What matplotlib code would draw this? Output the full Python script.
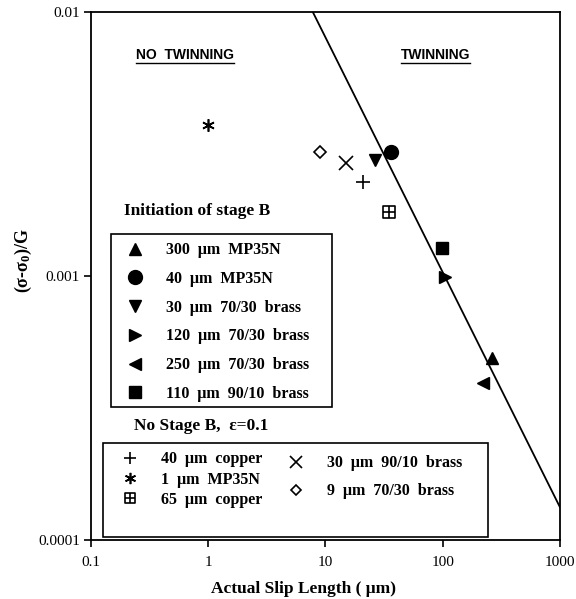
import numpy as np
import matplotlib
matplotlib.use("Agg")
import matplotlib.pyplot as plt
from matplotlib.path import Path
from matplotlib.lines import Line2D
from matplotlib.patches import Rectangle

plt.rcParams['font.family'] = ['Liberation Serif', 'DejaVu Serif']
plt.rcParams['mathtext.fontset'] = 'custom'
plt.rcParams['mathtext.rm'] = 'Liberation Serif:bold'
plt.rcParams['mathtext.it'] = 'Liberation Serif:bold'

# stage B initiation data (slip length in um, normalised stress)
stage_labels = ["300  μm  MP35N", "40  μm  MP35N", "30  μm  70/30  brass",
                "120  μm  70/30  brass", "250  μm  70/30  brass", "110  μm  90/10  brass"]
stage_x = [262, 36, 26.4, 104, 220, 98]
stage_y = [0.000488, 0.00294, 0.00276, 0.00099, 0.000392, 0.00128]

# no stage B, strain 0.1
nob_labels = ["40  μm  copper", "1  μm  MP35N", "65  μm  copper",
              "30  μm  90/10  brass", "9  μm  70/30  brass"]
nob_x = [20.8, 1.0, 34.7, 14.9, 9.0]
nob_y = [0.00226, 0.00372, 0.00175, 0.00267, 0.00294]

# twinning boundary
line_x = [7.8, 1000]
line_y = [0.01, 0.000133]

# boxed plus marker
verts = [(-1, -1), (1, -1), (1, 1), (-1, 1), (-1, -1),
         (0, -1), (0, 1), (-1, 0), (1, 0)]
codes = [Path.MOVETO, Path.LINETO, Path.LINETO, Path.LINETO, Path.CLOSEPOLY,
         Path.MOVETO, Path.LINETO, Path.MOVETO, Path.LINETO]
boxplus = Path(verts, codes)

stage_markers = ['^', 'o', 'v', '>', '<', 's']
stage_sizes = [9, 10, 9, 9, 9, 8.5]
nob_markers = ['+', (6, 2, 0), boxplus, 'x', 'D']
nob_sizes = [10, 9, 8, 10, 6]
nob_open = [False, False, True, False, True]

fig = plt.figure(figsize=(5.76, 5.99), dpi=100)
ax = fig.add_axes([0.158, 0.099, 0.814, 0.881])

ax.plot(line_x, line_y, color='black', lw=1.3)

for x, y, m, s in zip(stage_x, stage_y, stage_markers, stage_sizes):
    ax.plot(x, y, marker=m, color='black', ms=s, ls='none')
for x, y, m, s, op in zip(nob_x, nob_y, nob_markers, nob_sizes, nob_open):
    ax.plot(x, y, marker=m, color='black', mfc='none' if op else 'black',
            ms=s, mew=1.2, ls='none')

ax.set_xscale('log')
ax.set_yscale('log')
ax.set_xlim(0.1, 1000)
ax.set_ylim(0.0001, 0.01)
ax.set_xticks([0.1, 1, 10, 100, 1000])
ax.set_xticklabels(['0.1', '1', '10', '100', '1000'])
ax.set_yticks([0.0001, 0.001, 0.01])
ax.set_yticklabels(['0.0001', '0.001', '0.01'])
ax.minorticks_off()
ax.tick_params(direction='out', length=5, width=1.2, labelsize=11, pad=3)
ax.tick_params(axis='x', pad=7)
for sp in ax.spines.values():
    sp.set_linewidth(1.3)

ax.set_xlabel('Actual Slip Length ( μm)', fontsize=12.5, fontweight='bold')
ax.xaxis.set_label_coords(0.454, -0.078)
ax.set_ylabel('(σ-σ$_0$)/G', fontsize=13, fontweight='bold')
ax.yaxis.set_label_coords(-0.122, 0.53)

# region labels
for tx, label in [(0.200, 'NO  TWINNING'), (0.735, 'TWINNING')]:
    ax.text(tx, 0.911, label, transform=ax.transAxes, ha='center', va='baseline',
            family='Liberation Sans', fontweight='bold', fontsize=10)
fig.canvas.draw()
for t in list(ax.texts):
    bb = t.get_window_extent().transformed(ax.transAxes.inverted())
    ax.plot([bb.x0, bb.x1], [0.904, 0.904], transform=ax.transAxes, color='black', lw=1)

leg_font = {'weight': 'bold', 'size': 11.5}

# legend 1
ax.text(0.070, 0.622, 'Initiation of stage B', transform=ax.transAxes,
        fontsize=12.5, fontweight='bold', va='center')
ax.add_patch(Rectangle((0.043, 0.251), 0.471, 0.329, transform=ax.transAxes,
                       fill=False, lw=1.2, ec='black'))
h1 = [Line2D([], [], marker=m, color='black', ms=s, ls='none')
      for m, s in zip(stage_markers, stage_sizes)]
leg1 = ax.legend(h1, stage_labels, loc='upper left', bbox_to_anchor=(0.055, 0.576),
                 frameon=False, prop=leg_font,
                 labelspacing=0.80, handletextpad=1.2, borderaxespad=0, handlelength=1.5)
ax.add_artist(leg1)

# legend 2
ax.text(0.092, 0.215, 'No Stage B,  ε=0.1', transform=ax.transAxes,
        fontsize=12.5, fontweight='bold', va='center')
ax.add_patch(Rectangle((0.026, 0.006), 0.820, 0.177, transform=ax.transAxes,
                       fill=False, lw=1.2, ec='black'))
h2 = [Line2D([], [], marker=m, color='black', mfc='none' if op else 'black',
             ms=s * 0.9, mew=1.2, ls='none')
      for m, s, op in zip(nob_markers, nob_sizes, nob_open)]
leg2a = ax.legend(h2[:3], nob_labels[:3], loc='upper left', bbox_to_anchor=(0.043, 0.180),
                  frameon=False, prop=leg_font, labelspacing=0.28,
                  handletextpad=1.2, borderaxespad=0, handlelength=1.5)
ax.add_artist(leg2a)
leg2b = ax.legend(h2[3:], nob_labels[3:], loc='upper left', bbox_to_anchor=(0.397, 0.172),
                  frameon=False, prop=leg_font, labelspacing=0.75,
                  handletextpad=1.2, borderaxespad=0, handlelength=1.5)

fig.savefig('out.png', dpi=100)
